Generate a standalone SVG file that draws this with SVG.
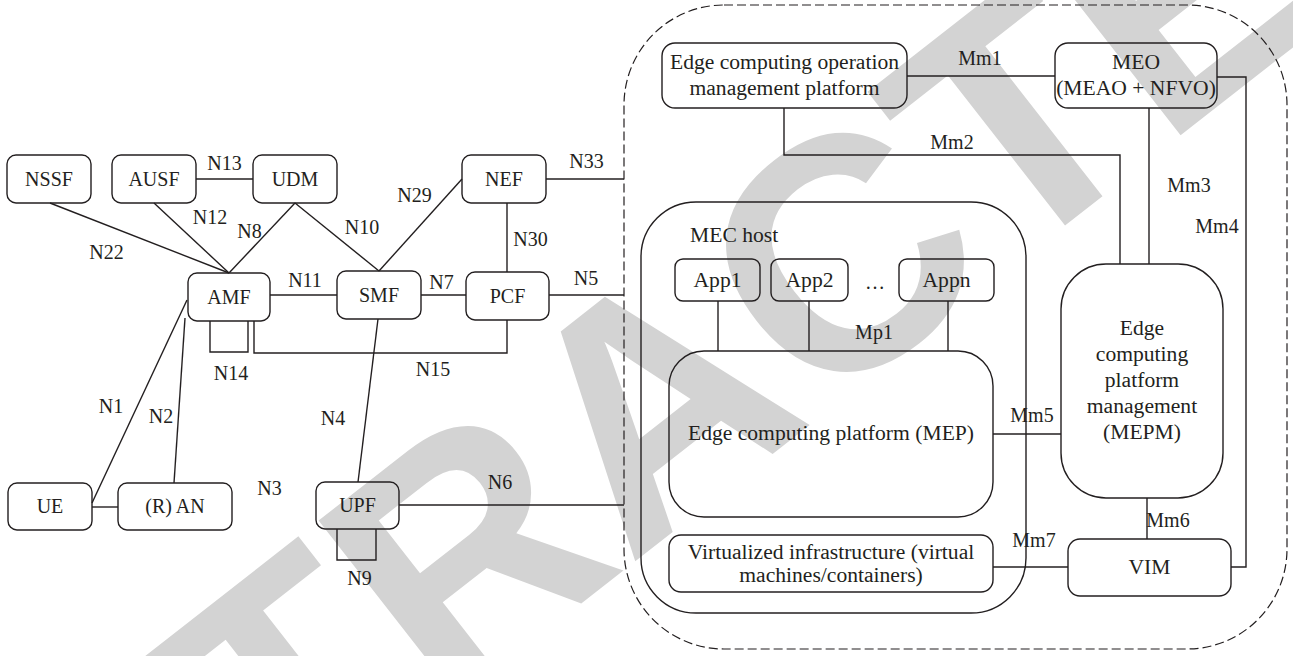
<svg xmlns="http://www.w3.org/2000/svg" width="1293" height="656" viewBox="0 0 1293 656">
<style>
.n rect{fill:none;stroke:#231f20;stroke-width:1.4}
.c line,.c path,.c polyline{fill:none;stroke:#231f20;stroke-width:1.4}
text{font-family:"Liberation Serif","Times New Roman",serif;fill:#231f20;font-size:20px}
.t{text-anchor:middle}
.b{font-size:21.6px}
.wm{font-family:"Liberation Sans",Arial,sans-serif;font-weight:bold;fill:#d3d3d3;font-size:330px;text-anchor:middle}
</style>
<rect width="1293" height="656" fill="#fff"/>
<g id="watermark"><text class="wm" transform="translate(650,400) rotate(-38)" x="0" y="118">RETRACTED</text></g>
<g id="mec-system"><rect x="624" y="5" width="663" height="644" rx="100" fill="none" stroke="#231f20" stroke-width="1.2" stroke-dasharray="9 4"/></g>
<g class="c" id="connectors">
<line x1="196" y1="179" x2="253" y2="179"/>
<line x1="50" y1="203" x2="229" y2="273"/>
<line x1="154" y1="203" x2="229" y2="273"/>
<line x1="295" y1="203" x2="229" y2="273"/>
<line x1="295" y1="203" x2="379" y2="271"/>
<line x1="379" y1="271" x2="462" y2="179"/>
<line x1="546" y1="179" x2="624" y2="179"/>
<line x1="507" y1="203" x2="507" y2="272"/>
<line x1="270" y1="295" x2="337" y2="295"/>
<line x1="421" y1="295" x2="466" y2="295"/>
<line x1="549" y1="295" x2="624" y2="295"/>
<polyline points="210,321 210,352 248,352 248,321"/>
<polyline points="254,321 254,353 507,353 507,320"/>
<line x1="187" y1="300" x2="92" y2="503"/>
<line x1="185" y1="318" x2="174" y2="483"/>
<line x1="92" y1="507" x2="118" y2="507"/>
<line x1="378" y1="319" x2="358" y2="482"/>
<line x1="399" y1="505" x2="624" y2="505"/>
<polyline points="337,529 337,560 376,560 376,529"/>
<line x1="907" y1="76" x2="1055" y2="76"/>
<polyline points="784,108 784,155 1120,155 1120,264"/>
<line x1="1149" y1="108" x2="1149" y2="264"/>
<polyline points="1217,77 1246,77 1246,567 1231,567"/>
<line x1="1147" y1="498" x2="1147" y2="539"/>
<line x1="993" y1="567" x2="1068" y2="567"/>
<line x1="993" y1="434" x2="1061" y2="434"/>
<line x1="718" y1="301" x2="718" y2="351"/>
<line x1="809" y1="301" x2="809" y2="351"/>
<line x1="948" y1="301" x2="948" y2="351"/>
</g>
<g id="labels" class="t">
<text x="224.5" y="170">N13</text>
<text x="106.5" y="259">N22</text>
<text x="210" y="224">N12</text>
<text x="249.5" y="238">N8</text>
<text x="362" y="234">N10</text>
<text x="414.5" y="202">N29</text>
<text x="586.5" y="168">N33</text>
<text x="530.5" y="246">N30</text>
<text x="305" y="287">N11</text>
<text x="441.5" y="289">N7</text>
<text x="586" y="285">N5</text>
<text x="231" y="380">N14</text>
<text x="433" y="376">N15</text>
<text x="111" y="413">N1</text>
<text x="161" y="423">N2</text>
<text x="333" y="425">N4</text>
<text x="269.5" y="495">N3</text>
<text x="500" y="489">N6</text>
<text x="359.5" y="585">N9</text>
<text x="980" y="65">Mm1</text>
<text x="952" y="149">Mm2</text>
<text x="1189" y="192">Mm3</text>
<text x="1217" y="233">Mm4</text>
<text x="1032" y="422">Mm5</text>
<text x="1168" y="527">Mm6</text>
<text x="1034" y="547">Mm7</text>
<text x="874" y="339">Mp1</text>
<text x="875" y="289">…</text>
</g>
<g class="n t" id="NSSF"><rect x="7" y="155" width="84" height="48" rx="9"/><text x="49" y="186">NSSF</text></g>
<g class="n t" id="AUSF"><rect x="112" y="155" width="84" height="48" rx="9"/><text x="154" y="186">AUSF</text></g>
<g class="n t" id="UDM"><rect x="253" y="155" width="84" height="48" rx="9"/><text x="295" y="186">UDM</text></g>
<g class="n t" id="NEF"><rect x="462" y="155" width="84" height="48" rx="9"/><text x="504" y="186">NEF</text></g>
<g class="n t" id="AMF"><rect x="188" y="273" width="82" height="48" rx="9"/><text x="229" y="304">AMF</text></g>
<g class="n t" id="SMF"><rect x="337" y="271" width="84" height="48" rx="9"/><text x="379" y="302">SMF</text></g>
<g class="n t" id="PCF"><rect x="466" y="272" width="83" height="48" rx="9"/><text x="507.5" y="303">PCF</text></g>
<g class="n t" id="UE"><rect x="8" y="483" width="84" height="47" rx="9"/><text x="50" y="513">UE</text></g>
<g class="n t" id="RAN"><rect x="118" y="483" width="114" height="47" rx="9"/><text x="175" y="513">(R) AN</text></g>
<g class="n t" id="UPF"><rect x="316" y="482" width="83" height="47" rx="9"/><text x="357.5" y="512">UPF</text></g>
<g class="n t" id="ECOMP"><rect x="662" y="43" width="245" height="65" rx="13"/><text class="b" x="784.5" y="69">Edge computing operation</text><text class="b" x="784.5" y="95">management platform</text></g>
<g class="n t" id="MEO"><rect x="1055" y="43" width="162" height="65" rx="13"/><text class="b" x="1136" y="69">MEO</text><text class="b" x="1136" y="95">(MEAO + NFVO)</text></g>
<g class="n t" id="MEPM"><rect x="1061" y="264" width="162" height="234" rx="45"/><text class="b" x="1142" y="335">Edge</text><text class="b" x="1142" y="361">computing</text><text class="b" x="1142" y="387">platform</text><text class="b" x="1142" y="413">management</text><text class="b" x="1142" y="439">(MEPM)</text></g>
<g class="n t" id="VIM"><rect x="1068" y="539" width="163" height="57" rx="12"/><text class="b" x="1149.5" y="574">VIM</text></g>
<g class="n" id="MEChost"><rect x="641" y="202" width="385" height="411" rx="55"/><text class="b" x="690" y="242">MEC host</text></g>
<g class="n t" id="App1"><rect x="675" y="259" width="85" height="42" rx="8"/><text class="b" x="717.5" y="287">App1</text></g>
<g class="n t" id="App2"><rect x="771" y="259" width="77" height="42" rx="8"/><text class="b" x="809.5" y="287">App2</text></g>
<g class="n t" id="Appn"><rect x="899" y="259" width="95" height="42" rx="8"/><text class="b" x="946.5" y="287">Appn</text></g>
<g class="n t" id="MEP"><rect x="669" y="351" width="324" height="166" rx="35"/><text class="b" x="831" y="440">Edge computing platform (MEP)</text></g>
<g class="n t" id="VI"><rect x="669" y="535" width="324" height="57" rx="12"/><text class="b" x="831" y="559">Virtualized infrastructure (virtual</text><text class="b" x="831" y="582">machines/containers)</text></g>
</svg>
